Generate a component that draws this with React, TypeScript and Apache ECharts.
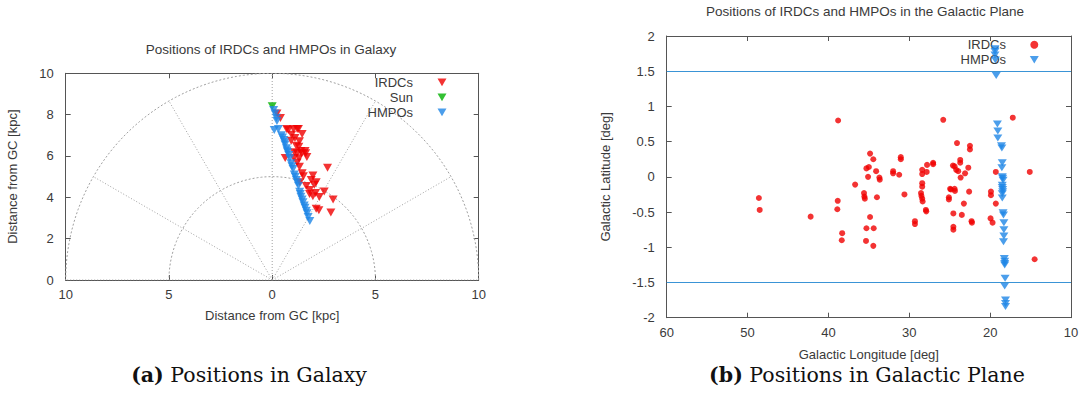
import React, { useEffect, useRef } from "react";
import * as echarts from "echarts";

// ---------- data ----------
// Left panel: Galactocentric positions (x, y) [kpc]
const galaxyIRDCs: [number, number][] = [
  [0.23, 8.06], [0.4, 7.84], [0.7, 7.3], [0.78, 7.26], [1.03, 7.3], [1.21, 7.3], [1.27, 7.3],
  [1.45, 7.06], [0.94, 7.03], [1.1, 6.87], [0.92, 6.74], [1.32, 6.71], [1.16, 6.5], [1.29, 6.45],
  [1.07, 6.18], [1.21, 6.13], [1.42, 6.13], [1.62, 6.13], [1.39, 6.24], [1.59, 6.24], [1.68, 5.95],
  [0.63, 5.9], [1.05, 5.9], [1.3, 5.89], [1.21, 5.69], [1.32, 5.48], [2.68, 5.43], [1.45, 5.16],
  [1.51, 5.02], [1.97, 5.05], [1.89, 4.84], [2.13, 4.73], [1.34, 4.73], [2.04, 4.61], [1.65, 4.55],
  [1.81, 4.35], [2.1, 4.21], [2.52, 4.28], [1.81, 4.16], [1.97, 4.05], [2.28, 4.02], [2.95, 3.9],
  [2.13, 3.45], [2.26, 3.37], [2.84, 3.27],
];
const galaxySun: [number, number][] = [[0, 8.4]];
const galaxyHMPOs: [number, number][] = [
  [0.07, 8.22], [0.14, 8.06], [0.2, 7.85], [0.23, 7.69], [0.1, 7.26], [0.3, 7.3], [0.45, 7.0],
  [0.5, 6.9], [0.56, 6.77], [0.6, 6.66], [0.62, 6.56], [0.69, 6.37], [0.72, 6.26], [0.75, 6.18],
  [0.8, 6.05], [0.85, 5.89], [0.91, 5.65], [0.96, 5.5], [1.01, 5.37], [1.07, 5.11], [1.12, 5.0],
  [1.17, 4.84], [1.22, 4.7], [1.27, 4.56], [1.33, 4.27], [1.36, 4.16], [1.39, 4.03], [1.45, 3.9],
  [1.49, 3.76], [1.55, 3.6], [1.59, 3.5], [1.65, 3.35], [1.69, 3.23], [1.74, 3.05], [1.82, 2.85],
];
// Left panel polar reference grid
const polarRadii = [5, 10];
const polarAngles = [0, 30, 60, 90, 120, 150, 180];

// Right panel: galactic coordinates (l, b) [deg]
const planeIRDCs: [number, number][] = [
  [48.6, -0.3], [48.5, -0.47], [42.2, -0.565], [38.8, 0.8], [38.85, -0.34], [38.9, -0.46],
  [38.3, -0.8], [38.35, -0.9], [36.7, -0.11], [35.6, -0.23], [35.55, -0.28], [35.5, -0.31],
  [35.3, 0.12], [35.0, 0.14], [35.1, 0.0], [34.85, 0.33], [34.45, 0.25], [34.1, 0.08],
  [33.7, -0.01], [33.65, -0.04], [34.0, -0.29], [34.85, -0.57], [35.3, -0.73], [34.4, -0.73],
  [35.35, -0.91], [34.45, -0.98], [32.0, 0.08], [32.0, 0.05], [31.25, 0.03], [31.05, 0.28],
  [31.05, 0.25], [30.6, -0.25], [29.3, -0.63], [29.3, -0.67], [28.55, -0.23], [28.5, -0.27],
  [28.4, -0.31], [28.35, -0.35], [28.4, 0.1], [28.4, 0.04], [28.4, -0.09], [28.4, -0.14],
  [27.95, -0.47], [27.9, -0.49], [27.85, 0.07], [27.8, 0.17], [27.05, 0.2], [27.05, 0.18],
  [25.8, 0.81], [25.1, -0.29], [25.1, -0.32], [24.95, -0.17], [24.85, -0.18], [24.6, 0.16],
  [24.4, 0.15], [24.2, 0.1], [24.1, 0.48], [24.4, -0.17], [24.35, -0.2], [24.55, -0.52],
  [24.55, -0.71], [24.55, -0.75], [23.7, 0.24], [23.7, 0.2], [23.95, 0.08], [23.65, -0.01],
  [23.5, -0.54], [23.25, -0.38], [23.1, 0.05], [22.7, 0.13], [22.5, 0.44], [22.5, 0.39],
  [22.6, -0.21], [22.3, -0.63], [22.25, -0.65], [19.9, -0.21], [19.9, -0.26], [19.95, -0.59],
  [19.7, -0.65], [19.3, 0.07], [19.3, -0.38], [17.2, 0.84], [15.1, 0.07], [14.5, -1.17],
];
const planeHMPOs: [number, number][] = [
  [19.4, 1.82], [19.4, 1.78], [19.4, 1.73], [19.35, 1.66], [19.25, 1.44], [19.1, 0.75],
  [19.05, 0.65], [19.05, 0.55], [18.6, 0.44], [18.55, 0.41], [18.5, 0.2], [18.55, 0.13],
  [18.5, 0.0], [18.45, -0.02], [18.4, -0.05], [18.5, -0.12], [18.5, -0.15], [18.45, -0.18],
  [18.45, -0.21], [18.5, -0.24], [18.5, -0.3], [18.4, -0.51], [18.35, -0.54], [18.3, -0.65],
  [18.3, -0.75], [18.3, -0.84], [18.35, -0.92], [18.25, -1.16], [18.2, -1.2], [18.2, -1.23],
  [18.2, -1.25], [18.15, -1.44], [18.2, -1.55], [18.1, -1.75], [18.1, -1.8], [18.1, -1.84],
];
const latitudeLimits = [1.5, -1.5];

// ---------- texts ----------
const leftTitle = "Positions of IRDCs and HMPOs in Galaxy";
const rightTitle = "Positions of IRDCs and HMPOs in the Galactic Plane";
const leftAxisName = "Distance from GC [kpc]";
const rightXName = "Galactic Longitude [deg]";
const rightYName = "Galactic Latitude [deg]";

// ---------- styles ----------
const SANS = "Liberation Sans";
const SERIF = "DejaVu Serif";
const TEXT = "#3a3a3a";
const AXIS = "#555";
const RED = "#f00000";
const GREEN = "#00b000";
const BLUE = "#1e86e6";
const LIMIT = "#3a94d6";
const GRIDC = "#a0a0a0";
const FS = 13;
const CAP = 20.5;
const DOWN_TRI = "path://M0,0L10,0L5,8.5Z";

function buildOption() {
  const gridSeries: any[] = [];
  polarRadii.forEach((r) => {
    const pts: [number, number][] = [];
    for (let a = 0; a <= 180; a += 2) {
      const t = (a * Math.PI) / 180;
      pts.push([r * Math.cos(t), r * Math.sin(t)]);
    }
    gridSeries.push({
      type: "line", name: "arc" + r, xAxisIndex: 0, yAxisIndex: 0, data: pts,
      symbol: "none", silent: true, z: 1,
      lineStyle: { color: GRIDC, width: 1, type: [2, 2] },
    });
  });
  polarAngles.forEach((a) => {
    const t = (a * Math.PI) / 180;
    const R = polarRadii[polarRadii.length - 1];
    gridSeries.push({
      type: "line", name: "spoke" + a, xAxisIndex: 0, yAxisIndex: 0,
      data: [[0, 0], [R * Math.cos(t), R * Math.sin(t)]],
      symbol: "none", silent: true, z: 1,
      lineStyle: { color: GRIDC, width: 1, type: [1, 2] },
    });
  });

  const lbl = { color: TEXT, fontFamily: SANS, fontSize: FS };
  const axLine = { show: true, onZero: false, lineStyle: { color: AXIS, width: 1 } };
  const tick = { show: true, inside: true, length: 5, lineStyle: { color: AXIS } };
  const nameStyle = { color: TEXT, fontFamily: SANS, fontSize: FS };

  return {
    animation: false,
    backgroundColor: "#ffffff",
    grid: [
      { left: 65.7, top: 73.3, width: 413, height: 206.7, outerBoundsMode: "none" },
      { left: 666.7, top: 36, width: 404.3, height: 281.7, outerBoundsMode: "none" },
    ],
    xAxis: [
      {
        gridIndex: 0, type: "value", min: -10, max: 10, interval: 5, position: "bottom",
        axisLine: axLine, axisTick: tick, splitLine: { show: false },
        axisLabel: { ...lbl, margin: 8, formatter: (v: number) => String(Math.abs(v)) },
        name: leftAxisName, nameLocation: "middle", nameGap: 29, nameTextStyle: nameStyle,
      },
      {
        gridIndex: 0, type: "value", min: -10, max: 10, interval: 5, position: "top",
        axisLine: axLine, axisTick: tick, splitLine: { show: false }, axisLabel: { show: false },
      },
      {
        gridIndex: 1, type: "value", min: 10, max: 60, interval: 10, inverse: true, position: "bottom",
        axisLine: axLine, axisTick: tick, splitLine: { show: false },
        axisLabel: { ...lbl, margin: 8 },
        name: rightXName, nameLocation: "middle", nameGap: 30, nameTextStyle: nameStyle,
      },
      {
        gridIndex: 1, type: "value", min: 10, max: 60, interval: 10, inverse: true, position: "top",
        axisLine: axLine, axisTick: tick, splitLine: { show: false }, axisLabel: { show: false },
      },
    ],
    yAxis: [
      {
        gridIndex: 0, type: "value", min: 0, max: 10, interval: 2, position: "left",
        axisLine: axLine, axisTick: tick, splitLine: { show: false },
        axisLabel: { ...lbl, margin: 12 },
        name: leftAxisName, nameLocation: "middle", nameGap: 47, nameTextStyle: nameStyle,
      },
      {
        gridIndex: 0, type: "value", min: 0, max: 10, interval: 2, position: "right",
        axisLine: axLine, axisTick: tick, splitLine: { show: false }, axisLabel: { show: false },
      },
      {
        gridIndex: 1, type: "value", min: -2, max: 2, interval: 0.5, position: "left",
        axisLine: axLine, axisTick: tick, splitLine: { show: false },
        axisLabel: { ...lbl, margin: 12 },
        name: rightYName, nameLocation: "middle", nameGap: 55, nameTextStyle: nameStyle,
      },
      {
        gridIndex: 1, type: "value", min: -2, max: 2, interval: 0.5, position: "right",
        axisLine: axLine, axisTick: tick, splitLine: { show: false }, axisLabel: { show: false },
      },
    ],
    legend: [
      {
        data: [
          { name: "IRDCs", icon: DOWN_TRI },
          { name: "Sun", icon: DOWN_TRI },
          { name: "HMPOs", icon: DOWN_TRI },
        ],
        orient: "vertical", align: "right",
        right: 642.5, top: 74.8, itemWidth: 9, itemHeight: 8, itemGap: 0, padding: 0, z: 1,
        textStyle: { color: TEXT, fontFamily: SANS, fontSize: FS, lineHeight: 15, padding: [0, 19.5, 0, 0] },
        selectedMode: false,
      },
      {
        data: [
          { name: "IRDCs ", icon: "circle" },
          { name: "HMPOs ", icon: DOWN_TRI },
        ],
        orient: "vertical", align: "right",
        right: 50.2, top: 37.2, itemWidth: 9, itemHeight: 8, itemGap: 0, padding: 0, z: 1,
        formatter: (n: string) => n.trim(),
        textStyle: { color: TEXT, fontFamily: SANS, fontSize: FS, lineHeight: 15, padding: [0, 18.8, 0, 0] },
        selectedMode: false,
      },
    ],
    series: [
      ...gridSeries,
      {
        type: "scatter", name: "IRDCs", xAxisIndex: 0, yAxisIndex: 0, data: galaxyIRDCs,
        symbol: "triangle", symbolRotate: 180, symbolSize: [9, 8], z: 3,
        itemStyle: { color: RED },
      },
      {
        type: "scatter", name: "Sun", xAxisIndex: 0, yAxisIndex: 0, data: galaxySun,
        symbol: "triangle", symbolRotate: 180, symbolSize: [9, 8], z: 3,
        itemStyle: { color: GREEN },
      },
      {
        type: "scatter", name: "HMPOs", xAxisIndex: 0, yAxisIndex: 0, data: galaxyHMPOs,
        symbol: "triangle", symbolRotate: 180, symbolSize: [9, 8], z: 3,
        itemStyle: { color: BLUE },
      },
      {
        type: "scatter", name: "IRDCs ", xAxisIndex: 2, yAxisIndex: 2, data: planeIRDCs,
        symbol: "circle", symbolSize: 6, z: 3,
        itemStyle: { color: RED },
        markLine: {
          silent: true, symbol: "none", label: { show: false },
          lineStyle: { color: LIMIT, type: "solid", width: 1 },
          data: latitudeLimits.map((v) => ({ yAxis: v })),
        },
      },
      {
        type: "scatter", name: "HMPOs ", xAxisIndex: 2, yAxisIndex: 2, data: planeHMPOs,
        symbol: "triangle", symbolRotate: 180, symbolSize: [9, 7], z: 3,
        itemStyle: { color: BLUE },
      },
    ],
    graphic: [
      {
        type: "text", x: 271, y: 49,
        style: { text: leftTitle, fontFamily: SANS, fontSize: 13.5, fill: TEXT, align: "center", verticalAlign: "middle", textAlign: "center", textVerticalAlign: "middle" },
      },
      {
        type: "text", x: 865, y: 11,
        style: { text: rightTitle, fontFamily: SANS, fontSize: 13.5, fill: TEXT, align: "center", verticalAlign: "middle", textAlign: "center", textVerticalAlign: "middle" },
      },
      {
        type: "text", x: 249, y: 375,
        style: {
          text: "{b|(a)} Positions in Galaxy", fontFamily: SERIF, fontSize: CAP, fill: "#111",
          align: "center", verticalAlign: "middle", textAlign: "center", textVerticalAlign: "middle",
          rich: { b: { fontFamily: SERIF, fontSize: CAP, fontWeight: "bold", fill: "#111" } },
        },
      },
      {
        type: "text", x: 867, y: 375,
        style: {
          text: "{b|(b)} Positions in Galactic Plane", fontFamily: SERIF, fontSize: CAP, fill: "#111",
          align: "center", verticalAlign: "middle", textAlign: "center", textVerticalAlign: "middle",
          rich: { b: { fontFamily: SERIF, fontSize: CAP, fontWeight: "bold", fill: "#111" } },
        },
      },
    ],
  };
}

export default function App() {
  const ref = useRef<HTMLDivElement>(null);
  useEffect(() => {
    if (!ref.current) return;
    const chart = echarts.init(ref.current, null, { renderer: "svg", width: 1089, height: 405 });
    chart.setOption(buildOption() as any);
    return () => chart.dispose();
  }, []);
  return (
    <div
      ref={ref}
      style={{ position: "absolute", left: 0, top: 0, width: 1089, height: 405, background: "#fff" }}
    />
  );
}
